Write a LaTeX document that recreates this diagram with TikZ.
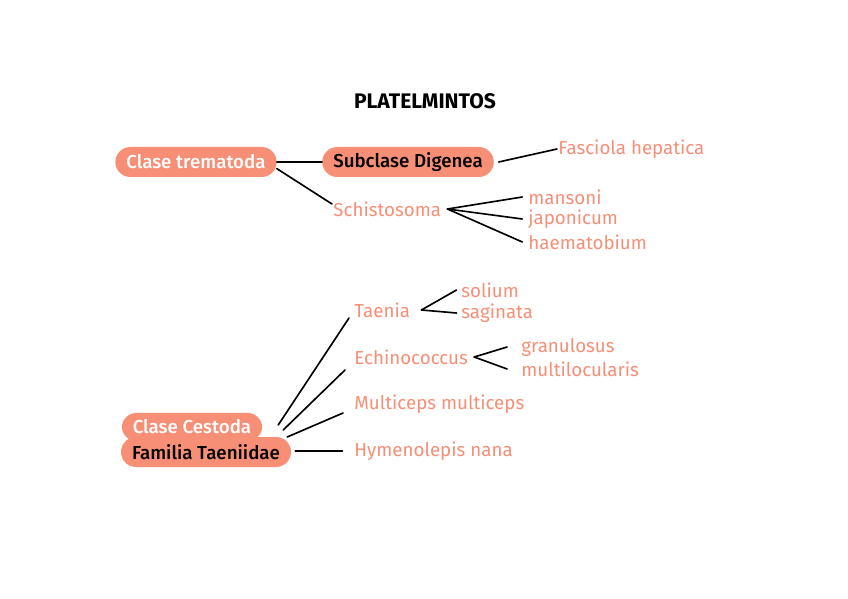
\documentclass[tikz,border=0pt]{standalone}
\usepackage{fontspec}
\setmainfont{Fira Sans}
\newfontfamily\medfont{Fira Sans Medium}
\usetikzlibrary{positioning}
\definecolor{Salmon}{RGB}{247,142,118}

\begin{document}
\begin{tikzpicture}[x=0.03cm, y=-0.03cm,
	pill/.style={fill=Salmon, rounded corners=0.45cm, minimum height=0.9cm, inner xsep=0.33cm, font=\medfont\fontsize{16}{18}\selectfont},
	leaf/.style={text=Salmon, inner sep=1pt, font=\fontsize{16}{18}\selectfont},
	link/.style={line width=1.4pt, line cap=round}]
	\useasboundingbox (0,0) rectangle (848,599);
	
	\node[font=\bfseries\fontsize{18}{20}\selectfont] (title) at (425,101) {PLATELMINTOS};
	
	% trematodos
	\node[pill, text=white] (trema) at (196,162) {Clase trematoda};
	\node[pill] (digenea) at (408,162) {Subclase Digenea};
	\node[leaf, anchor=west] (fasciola) at (557,149) {Fasciola hepatica};
	\node[leaf, anchor=west] (schisto) at (332,209) {Schistosoma};
	\node[leaf, anchor=west] (mansoni) at (527,197) {mansoni};
	\node[leaf, anchor=west] (japonicum) at (527,219) {japonicum};
	\node[leaf, anchor=west] (haemato) at (527,242) {haematobium};
	\coordinate (sfork) at ([xshift=0.15cm]schisto.east);
	
	\draw[link] (trema.east) -- (digenea.west);
	\draw[link] ([yshift=-0.2cm]trema.east) -- ([yshift=0.15cm]schisto.west);
	\draw[link] ([xshift=4pt]digenea.east) -- (fasciola.west);
	\draw[link] (sfork) -- ([xshift=-4pt]mansoni.west);
	\draw[link] (sfork) -- ([xshift=-4pt]japonicum.west);
	\draw[link] (sfork) -- ([xshift=-4pt]haemato.west);
	
	% cestodos
	\node[pill, text=white, minimum height=0.85cm] (cestoda) at (192,427) {Clase Cestoda};
	\node[pill] (taeniidae) at (206,452) {Familia Taeniidae};
	\node[leaf, anchor=west] (taenia) at (353,310) {Taenia};
	\node[leaf, anchor=west] (solium) at (460,290) {solium};
	\node[leaf, anchor=west] (saginata) at (460,313) {saginata};
	\node[leaf, anchor=west] (echino) at (353,357) {Echinococcus};
	\node[leaf, anchor=west] (granul) at (520,347) {granulosus};
	\node[leaf, anchor=west] (multiloc) at (520,369) {multilocularis};
	\node[leaf, anchor=west] (multiceps) at (353,404) {Multiceps multiceps};
	\node[leaf, anchor=west] (hymeno) at (353,451) {Hymenolepis nana};
	\coordinate (tfork) at ([xshift=0.3cm]taenia.east);
	\coordinate (efork) at ([xshift=0.15cm]echino.east);
	
	\draw[link] (tfork) -- ([xshift=-3pt]solium.west);
	\draw[link] (tfork) -- ([xshift=-3pt]saginata.west);
	\draw[link] (efork) -- ([xshift=-11pt]granul.west);
	\draw[link] (efork) -- ([xshift=-11pt]multiloc.west);
	
	\draw[link] ([shift={(-13,-27)}]taeniidae.east) -- ([shift={(-4,8)}]taenia.west);
	\draw[link] ([shift={(-8,-22)}]taeniidae.east) -- ([shift={(-8,13)}]echino.west);
	\draw[link] ([shift={(-4,-15)}]taeniidae.east) -- ([shift={(-10,9)}]multiceps.west);
	\draw[link] ([shift={(4,-1)}]taeniidae.east) -- ([xshift=-9pt]hymeno.west);
\end{tikzpicture}
\end{document}
